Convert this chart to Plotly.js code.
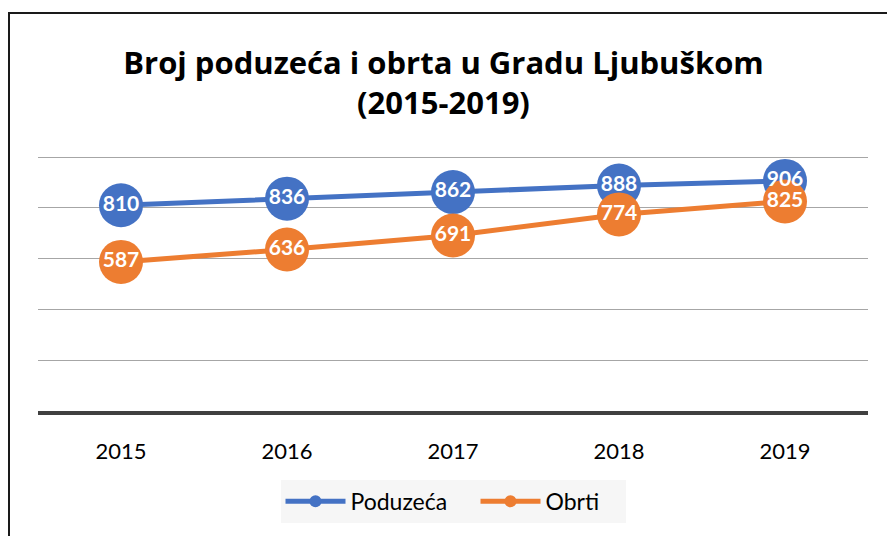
<!DOCTYPE html>
<html>
<head>
<meta charset="utf-8">
<script src="https://cdn.plot.ly/plotly-3.0.1.min.js"></script>
<style>
  html, body { margin: 0; padding: 0; background: #ffffff; overflow: hidden; }
  #frame { position: absolute; left: 8px; top: 12px; width: 1000px; height: 1000px;
           border-left: 2px solid #1a1a1a; border-top: 2px solid #1a1a1a; box-sizing: border-box; pointer-events: none; z-index: 2; }
  #chart { position: absolute; left: 0; top: 0; width: 887px; height: 536px; }
</style>
</head>
<body>
<div id="chart"></div>
<div id="frame"></div>
<script>
const years = ['2015', '2016', '2017', '2018', '2019'];
const poduzeca = [810, 836, 862, 888, 906];
const obrti = [587, 636, 691, 774, 825];
const seriesNames = ['Poduzeća', 'Obrti'];
const titleText = 'Broj poduzeća i obrta u Gradu Ljubuškom<br>(2015-2019)';

const blue = '#4472C4';
const orange = '#ED7D31';
const fontFam = 'Lato, "Open Sans", sans-serif';
const titleFam = '"Open Sans", Lato, sans-serif';

function lineTrace(y, name, color, lw) {
  const t = {
    x: years, y: y, name: name, type: 'scatter', mode: 'lines+markers',
    line: { color: color, width: 5 },
    marker: { color: color, size: 44, line: { width: 0 } },
    hoverinfo: 'skip', cliponaxis: false
  };
  if (lw) t.legendwidth = lw;
  return t;
}
function textTrace(y) {
  return {
    x: years, y: y, type: 'scatter', mode: 'text', showlegend: false,
    text: y.map(String), textposition: 'middle center',
    textfont: { family: fontFam, size: 21, color: '#ffffff', weight: 'bold' },
    hoverinfo: 'skip', cliponaxis: false
  };
}

const data = [
  lineTrace(poduzeca, seriesNames[0], blue, 120),
  lineTrace(obrti, seriesNames[1], orange, 75),
  textTrace(poduzeca),
  textTrace(obrti)
];

const layout = {
  width: 887, height: 536,
  paper_bgcolor: '#ffffff', plot_bgcolor: '#ffffff',
  margin: { l: 38, r: 19, t: 156, b: 125 },
  showlegend: true,
  title: {
    text: titleText, x: 0.5, xanchor: 'center', y: 0.862, yanchor: 'top',
    font: { family: titleFam, size: 31, color: '#000000', weight: 'bold' }
  },
  xaxis: {
    type: 'category', range: [-0.5, 4.5],
    showgrid: false, zeroline: false,
    showline: true, linecolor: '#404040', linewidth: 4,
    ticks: 'outside', ticklen: 18, tickcolor: 'rgba(0,0,0,0)',
    tickfont: { family: fontFam, size: 22, color: '#000000' }
  },
  yaxis: {
    range: [0, 1004], dtick: 200, tick0: 0,
    showgrid: true, gridcolor: '#a6a6a6', gridwidth: 1,
    zeroline: false, showticklabels: false, showline: false, ticks: ''
  },
  legend: {
    orientation: 'h', x: 0.5, xanchor: 'center', y: -0.27, yanchor: 'top',
    bgcolor: '#f6f6f6', borderwidth: 0,
    font: { family: fontFam, size: 23, color: '#000000' },
    itemwidth: 60, itemsizing: 'constant', traceorder: 'normal'
  }
};

Plotly.newPlot('chart', data, layout, { displayModeBar: false, staticPlot: true });
</script>
</body>
</html>
